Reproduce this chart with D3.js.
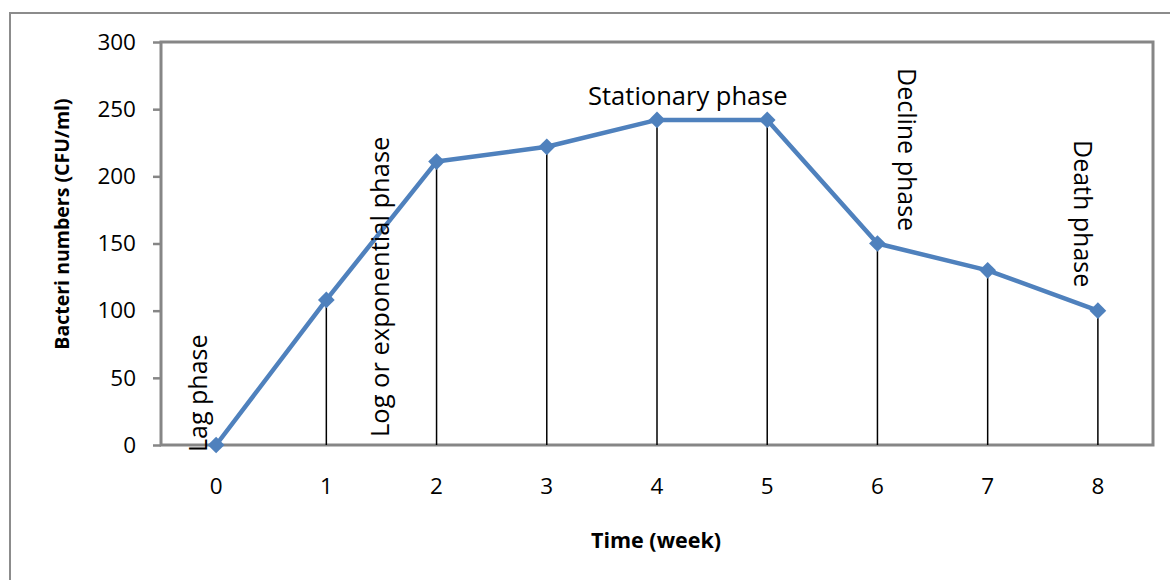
<!DOCTYPE html>
<html>
<head>
<meta charset="utf-8">
<script src="https://cdn.jsdelivr.net/npm/d3@7"></script>
<style>
  html, body { margin: 0; padding: 0; background: #fff; }
  svg { display: block; }
  text { font-family: "Open Sans", "Liberation Sans", sans-serif; fill: #000; }
</style>
</head>
<body>
<svg id="chart" width="1170" height="580"></svg>
<script>
// Bacterial growth curve: weekly counts
const weeks = ["0", "1", "2", "3", "4", "5", "6", "7", "8"];
const counts = [0, 108, 211, 222, 242, 242, 150, 130, 100];
const yTicks = [0, 50, 100, 150, 200, 250, 300];

// Phase annotations: week the label sits near, text
const phaseWeeks = [0, 1.5, 4.28, 6, 8];
const phaseNames = ["Lag phase", "Log or exponential phase", "Stationary phase", "Decline phase", "Death phase"];

const svg = d3.select("#chart");
const plot = { left: 161, right: 1153, top: 42, bottom: 445 };

const x = d3.scaleBand().domain(weeks).range([plot.left, plot.right]);
const cx = w => x(w) + x.bandwidth() / 2;
const y = d3.scaleLinear().domain([0, 300]).range([plot.bottom, plot.top]);
// linear helper for positions between categories
const xl = d3.scaleLinear().domain([0, weeks.length - 1]).range([cx(weeks[0]), cx(weeks[weeks.length - 1])]);

// outer chart frame
svg.append("rect")
  .attr("x", 10).attr("y", 13).attr("width", 1170).attr("height", 600)
  .attr("fill", "none").attr("stroke", "#8c8c8c").attr("stroke-width", 2);

// y axis ticks and labels
const yAxis = d3.axisLeft(y).tickValues(yTicks).tickSize(8).tickPadding(17);
const gy = svg.append("g").attr("transform", `translate(${plot.left},0)`).call(yAxis);
gy.select(".domain").remove();
gy.selectAll(".tick line").attr("stroke", "#868686").attr("stroke-width", 2.5);
gy.selectAll(".tick text")
  .style("font-family", "'Open Sans', sans-serif")
  .style("font-size", "22.5px").attr("fill", "#000");

// x axis labels (no tick marks)
const xAxis = d3.axisBottom(x).tickSize(0).tickPadding(33);
const gx = svg.append("g").attr("transform", `translate(0,${plot.bottom})`).call(xAxis);
gx.select(".domain").remove();
gx.selectAll(".tick text")
  .style("font-family", "'Open Sans', sans-serif")
  .style("font-size", "22.5px").attr("fill", "#000");

// plot area frame
svg.append("rect")
  .attr("x", plot.left).attr("y", plot.top)
  .attr("width", plot.right - plot.left).attr("height", plot.bottom - plot.top)
  .attr("fill", "none").attr("stroke", "#868686").attr("stroke-width", 3);

// drop lines from each point to the baseline
svg.append("g").selectAll("line")
  .data(weeks)
  .join("line")
  .attr("x1", d => cx(d)).attr("x2", d => cx(d))
  .attr("y1", (d, i) => y(counts[i])).attr("y2", y(0))
  .attr("stroke", "#000").attr("stroke-width", 1.5);

// growth curve
const line = d3.line().x((d, i) => cx(weeks[i])).y(d => y(d));
svg.append("path")
  .datum(counts)
  .attr("d", line)
  .attr("fill", "none")
  .attr("stroke", "#4f81bd")
  .attr("stroke-width", 4.5)
  .attr("stroke-linejoin", "round");

// diamond markers
const diamond = d3.symbol().type(d3.symbolSquare).size(140);
svg.append("g").selectAll("path")
  .data(counts)
  .join("path")
  .attr("d", diamond)
  .attr("transform", (d, i) => `translate(${cx(weeks[i])},${y(d)}) rotate(45)`)
  .attr("fill", "#4f81bd");

// phase labels
const phaseLayout = [
  { rot: -90, dx: -9, yPix: 452, size: 25 },
  { rot: -90, dx: 8, yPix: 437, size: 25.5 },
  { rot: 0, dx: 0, yPix: 105, size: 25.5 },
  { rot: 90, dx: 21, yPix: 68, size: 25 },
  { rot: 90, dx: -24, yPix: 140, size: 25 }
];
phaseNames.forEach((name, i) => {
  const L = phaseLayout[i];
  const px = xl(phaseWeeks[i]) + L.dx;
  const t = svg.append("text")
    .text(name)
    .style("font-size", L.size + "px");
  if (L.rot === 0) {
    t.attr("x", px).attr("y", L.yPix).attr("text-anchor", "middle");
  } else {
    t.attr("transform", `translate(${px},${L.yPix}) rotate(${L.rot})`);
  }
});

// axis titles
svg.append("text")
  .attr("transform", `translate(69,224) rotate(-90)`)
  .attr("text-anchor", "middle")
  .style("font-size", "19.5px").style("font-weight", "bold")
  .text("Bacteri numbers (CFU/ml)");

svg.append("text")
  .attr("x", 656).attr("y", 548)
  .attr("text-anchor", "middle")
  .style("font-size", "21.5px").style("font-weight", "bold")
  .text("Time (week)");
</script>
</body>
</html>
